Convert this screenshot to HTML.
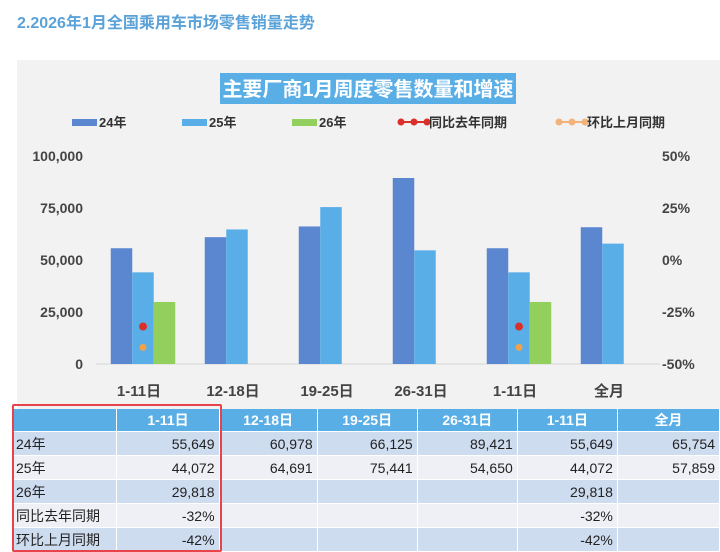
<!DOCTYPE html>
<html><head><meta charset="utf-8">
<style>
body{margin:0;width:720px;height:552px;background:#fff;overflow:hidden;font-family:"Liberation Sans","Noto Sans CJK SC",sans-serif;position:relative}
#h{position:absolute;left:17px;top:9px;font-size:16px;font-weight:bold;color:#5aa2d8}
#panel{position:absolute;left:17px;top:60px;width:703px;height:492px;background:#f2f2f2}
table{position:absolute;left:12px;top:409px;border-collapse:collapse;font-size:14px;color:#222}
td{height:23px;padding:0 4px;text-align:right;border-right:1px solid #fff;border-bottom:1px solid #fff}
td:first-child{text-align:left}
tr.hd td{background:#5aaee6;color:#fff;font-weight:bold;text-align:center;height:22px}
tr.b td{background:#cedcf0}
tr.w td{background:#eef0f5}
#box{position:absolute;left:12px;top:404px;width:206px;height:144px;border:2.5px solid #e8424a;border-radius:2px}
</style></head><body>
<div id="h">2.2026年1月全国乘用车市场零售销量走势</div>
<div id="panel"></div>
<svg id="chart" width="720" height="410" style="position:absolute;left:0;top:0" font-family="Liberation Sans, Noto Sans CJK SC, sans-serif"></svg>
<table>
<tr class="hd"><td style="width:98px"></td><td style="width:94px">1-11日</td><td style="width:90px">12-18日</td><td style="width:92px">19-25日</td><td style="width:92px">26-31日</td><td style="width:92px">1-11日</td><td style="width:94px">全月</td></tr>
<tr class="b"><td>24年</td><td>55,649</td><td>60,978</td><td>66,125</td><td>89,421</td><td>55,649</td><td>65,754</td></tr>
<tr class="w"><td>25年</td><td>44,072</td><td>64,691</td><td>75,441</td><td>54,650</td><td>44,072</td><td>57,859</td></tr>
<tr class="b"><td>26年</td><td>29,818</td><td></td><td></td><td></td><td>29,818</td><td></td></tr>
<tr class="w"><td>同比去年同期</td><td>-32%</td><td></td><td></td><td></td><td>-32%</td><td></td></tr>
<tr class="b"><td>环比上月同期</td><td>-42%</td><td></td><td></td><td></td><td>-42%</td><td></td></tr>
</table>
<div id="box"></div>
<script>
const categories=["1-11日","12-18日","19-25日","26-31日","1-11日","全月"];
const s24=[55649,60978,66125,89421,55649,65754];
const s25=[44072,64691,75441,54650,44072,57859];
const s26=[29818,null,null,null,29818,null];
const yoy=[-32,null,null,null,-32,null];
const mom=[-42,null,null,null,-42,null];
const leftTicks=[0,25000,50000,75000,100000];
const rightTicks=[-50,-25,0,25,50];
const NS="http://www.w3.org/2000/svg";
const svg=document.getElementById('chart');
function mk(t,a,txt){const e=document.createElementNS(NS,t);for(const k in a)e.setAttribute(k,a[k]);if(txt!=null)e.textContent=txt;svg.appendChild(e);return e;}
const x0=96,band=94,plotTop=156,plotBottom=364;
const yL=v=>plotBottom-(v/100000)*(plotBottom-plotTop);
const yR=v=>plotBottom-((v+50)/100)*(plotBottom-plotTop);
const bw=21.5,pad=14.75;
const barX=(i,j)=>x0+i*band+pad+j*bw;
let e=mk('rect',{x:220,y:73,width:296,height:31,fill:'#5aaee6'});


e=mk('text',{x:368,y:96,'text-anchor':'middle','font-size':20,'font-weight':'bold',fill:'#fff'},'主要厂商1月周度零售数量和增速');


const leg=[['24年','#5b86d0',72,'bar'],['25年','#5aaee8',182,'bar'],['26年','#92cf5c',292,'bar'],['同比去年同期','#d9302a',398,'line'],['环比上月同期','#f2b27a',556,'line']];
leg.forEach(l=>{
  if(l[3]==='bar'){e=mk('rect',{x:l[2],y:119,width:25,height:7,fill:l[1]});}
  else{e=mk('line',{x1:l[2],y1:122,x2:l[2]+30,y2:122,stroke:l[1],'stroke-width':2});
    [0,13,26].forEach(d=>mk('circle',{cx:l[2]+3+d,cy:122,r:3.5,fill:l[1]}));}
  
  
  e=mk('text',{x:l[2]+(l[3]==='bar'?27:31),y:127,'font-size':13,'font-weight':'bold',fill:'#333'},l[0]);
  
  
});
leftTicks.forEach(t=>{e=mk('text',{x:83,y:yL(t)+5,'text-anchor':'end','font-size':14,'font-weight':'bold',fill:'#444'},t.toLocaleString('en-US'));
  
  });
rightTicks.forEach(t=>{e=mk('text',{x:662,y:yR(t)+5,'font-size':14,'font-weight':'bold',fill:'#444'},t+'%');
  
  });
e=mk('line',{x1:x0,y1:plotBottom,x2:x0+band*6,y2:plotBottom,stroke:'#d6d6d6','stroke-width':1});


const series=[[s24,'#5b86d0','bar-24'],[s25,'#5aaee8','bar-25'],[s26,'#92cf5c','bar-26']];
categories.forEach((c,i)=>{
  series.forEach((s,j)=>{const v=s[0][i];if(v==null)return;
    e=mk('rect',{x:barX(i,j),y:yL(v),width:bw,height:plotBottom-yL(v),fill:s[1]});
    
    });
  e=mk('text',{x:x0+i*band+band/2-4,y:396,'text-anchor':'middle','font-size':15,'font-weight':'bold',fill:'#444'},c);
  
  
  const cx=barX(i,1)+bw/2;
  if(yoy[i]!=null){e=mk('circle',{cx:cx,cy:yR(yoy[i]),r:4,fill:'#d9302a'});
    
    }
  if(mom[i]!=null){e=mk('circle',{cx:cx,cy:yR(mom[i]),r:3.5,fill:'#f0a24a'});
    
    }
});
</script>
</body></html>
